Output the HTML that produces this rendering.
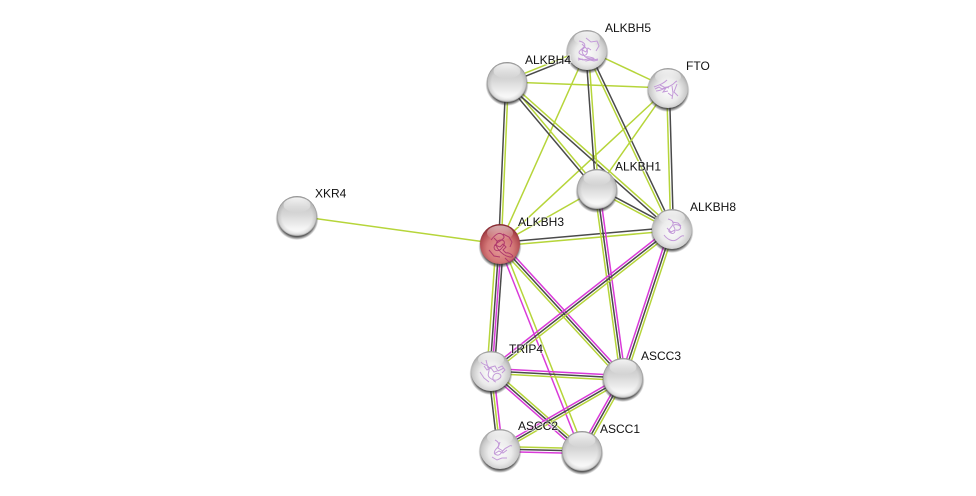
<!DOCTYPE html>
<html><head><meta charset="utf-8"><style>
html,body{margin:0;padding:0;background:#fff}
svg{display:block}
.g{stroke:#b6d53a;stroke-width:1.5}
.d{stroke:#4a4a4a;stroke-width:1.5}
.m{stroke:#d93ad9;stroke-width:1.5}
text{font-family:"Liberation Sans",sans-serif;font-size:12px;fill:#111;paint-order:stroke;stroke:rgba(255,255,255,.55);stroke-width:2px}
.s{fill:none;stroke:#c39ad8;stroke-width:1}
.sr{fill:none;stroke:#b03a6c;stroke-width:1}
</style></head><body>
<svg width="976" height="496" viewBox="0 0 976 496" xmlns="http://www.w3.org/2000/svg">
<defs>
<linearGradient id="b" x1="0" y1="0" x2="0" y2="1">
<stop offset="0" stop-color="#bcbcbc"/><stop offset=".45" stop-color="#d6d6d6"/><stop offset=".8" stop-color="#f4f4f4"/><stop offset=".93" stop-color="#fafafa"/><stop offset="1" stop-color="#dcdcdc"/>
</linearGradient>
<radialGradient id="ring" cx="50%" cy="50%" r="50%">
<stop offset=".76" stop-color="#777" stop-opacity="0"/><stop offset=".94" stop-color="#777" stop-opacity=".22"/><stop offset="1" stop-color="#666" stop-opacity=".65"/>
</radialGradient>
<radialGradient id="w" cx="50%" cy="58%" r="58%">
<stop offset="0" stop-color="#fbfbfb"/><stop offset=".5" stop-color="#ebebeb"/><stop offset=".8" stop-color="#c9c9c9"/><stop offset="1" stop-color="#9a9a9a"/>
</radialGradient>
<radialGradient id="r" cx="50%" cy="62%" r="60%">
<stop offset="0" stop-color="#e59a9a"/><stop offset=".55" stop-color="#d47878"/><stop offset=".85" stop-color="#b04a50"/><stop offset="1" stop-color="#852830"/>
</radialGradient>
<linearGradient id="h" x1="0" y1="0" x2="0" y2="1"><stop offset="0" stop-color="#fff" stop-opacity=".85"/><stop offset="1" stop-color="#fff" stop-opacity="0"/></linearGradient>
<linearGradient id="h2" x1="0" y1="0" x2="0" y2="1"><stop offset="0" stop-color="#fff" stop-opacity=".6"/><stop offset="1" stop-color="#fff" stop-opacity="0"/></linearGradient>
<radialGradient id="sh" cx="50%" cy="50%" r="50%"><stop offset=".85" stop-color="#333" stop-opacity=".8"/><stop offset="1" stop-color="#333" stop-opacity="0"/></radialGradient>
<g id="n"><circle cy="2.5" r="21.5" fill="url(#sh)"/><circle r="20" fill="url(#b)"/><circle r="20" fill="url(#ring)"/><ellipse cy="-11" rx="13.5" ry="7.5" fill="url(#h)"/></g>
<g id="nw"><circle cy="2.5" r="21.5" fill="url(#sh)"/><circle r="20" fill="url(#w)"/><ellipse cy="-11.5" rx="13" ry="7" fill="url(#h)"/></g>
<g id="nr"><circle cy="2.5" r="21.5" fill="url(#sh)"/><circle r="20" fill="url(#r)"/><ellipse cy="-11" rx="13" ry="7.5" fill="url(#h2)"/></g>
</defs>
<rect width="976" height="496" fill="#fff"/>
<line class="g" x1="297" y1="216" x2="500" y2="244"/>
<line class="d" x1="498.7" y1="244" x2="505.7" y2="82"/><line class="g" x1="501.3" y1="244" x2="508.3" y2="82"/>
<line class="g" x1="500" y1="244" x2="587" y2="50"/>
<line class="g" x1="500" y1="244" x2="668" y2="88"/>
<line class="g" x1="500" y1="244" x2="597" y2="189"/>
<line class="d" x1="500" y1="242.4" x2="672" y2="227.4"/><line class="g" x1="500" y1="245.8" x2="672" y2="230.8"/>
<line class="g" x1="496" y1="244" x2="487" y2="371"/><line class="d" x1="499" y1="244" x2="490" y2="371"/><line class="m" x1="501.2" y1="244" x2="492.2" y2="371"/><line class="d" x1="503.4" y1="244" x2="494.4" y2="371"/>
<line class="m" x1="501.9" y1="242.3" x2="624.9" y2="376.3"/><line class="d" x1="500" y1="244" x2="623" y2="378"/><line class="g" x1="498.1" y1="245.7" x2="621.1" y2="379.7"/>
<line class="m" x1="498.7" y1="244.5" x2="580.7" y2="451.5"/><line class="g" x1="502.3" y1="243.1" x2="584.3" y2="450.1"/>
<line class="g" x1="506.4" y1="80.6" x2="586.4" y2="48.6"/><line class="d" x1="507.6" y1="83.4" x2="587.6" y2="51.4"/>
<line class="g" x1="507" y1="82" x2="668" y2="88"/>
<line class="g" x1="587" y1="50" x2="668" y2="88"/>
<line class="d" x1="505.9" y1="83" x2="595.9" y2="190"/><line class="g" x1="508.1" y1="81" x2="598.1" y2="188"/>
<line class="d" x1="506" y1="83.1" x2="671" y2="230.1"/><line class="g" x1="508" y1="80.9" x2="673" y2="227.9"/>
<line class="d" x1="585.7" y1="50" x2="595.7" y2="189"/><line class="g" x1="588.4" y1="50" x2="598.4" y2="189"/>
<line class="g" x1="585.8" y1="50.6" x2="670.8" y2="229.6"/><line class="d" x1="588.2" y1="49.4" x2="673.2" y2="228.4"/>
<line class="g" x1="668" y1="88" x2="597" y2="189"/>
<line class="g" x1="666.7" y1="88" x2="670.7" y2="229"/><line class="d" x1="669.4" y1="88" x2="673.4" y2="229"/>
<line class="d" x1="597.6" y1="187.8" x2="672.6" y2="227.8"/><line class="g" x1="596.4" y1="190.2" x2="671.4" y2="230.2"/>
<line class="g" x1="594.5" y1="189" x2="620.5" y2="378"/><line class="d" x1="597" y1="189" x2="623" y2="378"/><line class="m" x1="599.5" y1="189" x2="625.5" y2="378"/>
<line class="m" x1="670.5" y1="227" x2="489.5" y2="369"/><line class="d" x1="672" y1="229" x2="491" y2="371"/><line class="g" x1="673.5" y1="231" x2="492.5" y2="373"/>
<line class="m" x1="669.6" y1="228.2" x2="620.6" y2="377.2"/><line class="d" x1="672" y1="229" x2="623" y2="378"/><line class="g" x1="674.4" y1="229.8" x2="625.4" y2="378.8"/>
<line class="m" x1="491" y1="368.5" x2="623" y2="375.5"/><line class="d" x1="491" y1="371" x2="623" y2="378"/><line class="g" x1="491" y1="373.5" x2="623" y2="380.5"/>
<line class="d" x1="488.5" y1="371" x2="497.5" y2="449"/><line class="g" x1="491" y1="371" x2="500" y2="449"/><line class="m" x1="493.5" y1="371" x2="502.5" y2="449"/>
<line class="g" x1="492.6" y1="369.1" x2="583.6" y2="449.1"/><line class="d" x1="491" y1="371" x2="582" y2="451"/><line class="m" x1="489.4" y1="372.9" x2="580.4" y2="452.9"/>
<line class="m" x1="621.8" y1="375.9" x2="498.8" y2="446.9"/><line class="d" x1="623" y1="378" x2="500" y2="449"/><line class="g" x1="624.2" y1="380.1" x2="501.2" y2="451.1"/>
<line class="m" x1="620.9" y1="376.8" x2="579.9" y2="449.8"/><line class="d" x1="623" y1="378" x2="582" y2="451"/><line class="g" x1="625.1" y1="379.2" x2="584.1" y2="452.2"/>
<line class="g" x1="500" y1="446.5" x2="582" y2="448.5"/><line class="d" x1="500" y1="449" x2="582" y2="451"/><line class="m" x1="500" y1="451.5" x2="582" y2="453.5"/>

<use href="#n" x="297" y="216"/>
<use href="#n" x="507" y="82"/>
<use href="#nw" x="587" y="50"/>
<use href="#nw" x="668" y="88"/>
<use href="#n" x="597" y="189"/>
<use href="#nw" x="672" y="229"/>
<use href="#nr" x="500" y="244"/>
<use href="#nw" x="491" y="371"/>
<use href="#n" x="623" y="378"/>
<use href="#nw" x="500" y="449"/>
<use href="#n" x="582" y="451"/>

<path class="s" d="M579 41c5 1 8 4 4 7s-6 5-1 7 7-4 4-7-5 2-3 6 6 5 10 5-4-3-8-2M578 58l5 2 5-1 5 1 5-1M578 60l4-1 4 2 4-1 4 1 4-1M586 38l5 4 6-1 2 5-3 5M582 44l3 3-3 3 4 2 2-4 3 2"/>
<path class="s" d="M654 87c5-2 9-3 13-7M656 91c5 0 9-3 14-5s4-4 7-5M660 85l6 3-3 4 5-1M672 86l1 7-1 6M677 84l-3 8 4 4M668 93l4 3M655 89l4-2 3 2 4-2 3 1"/>
<path class="s" d="M668 219c4 1 7 3 4 7s-5 5-1 7 5-3 3-6 4-3 6-1-1 5-4 4M664 235c3 4 8 7 12 5s5-5 8-4M672 222l6 1 3 3M667 228l4 4 4-2"/>
<path class="sr" d="M491 240c4-5 8-9 12-5s-5 6-8 10 2 8 6 4 5-9 0-9-6 5-3 9 8 8 13 8-2-5-5-4M503 234l6 3 3 5-2 5M489 250l5 6 6 1M505 258l4 4 5-3M494 238l4 4-3 3 5 2 3-3 3 3-3 3 3 3"/>
<path class="s" d="M481 362c3 4 7 2 8 6s-3 7 1 10 7 3 10 0-2-6-5-4-3 7 1 8M486 360l2 8 7-2 3 5 6-3M480 372l4 6 5 4M498 368l4-2 3 4-3 3M484 366l3 4 4-2 3 4 3-1"/>
<path class="s" d="M495 440c4 2 5 5 2 8s-4 6 0 7 5-5 9-7 4-3 6-2M492 457l5 3 5-2 5 0M500 442l-2 6 5 3M494 454l5-3 4 2 4-3"/>

<text x="315" y="197.5">XKR4</text>
<text x="605" y="32">ALKBH5</text>
<text x="525" y="64">ALKBH4</text>
<text x="686" y="70">FTO</text>
<text x="615" y="170.5">ALKBH1</text>
<text x="690" y="211">ALKBH8</text>
<text x="518" y="226">ALKBH3</text>
<text x="509" y="353">TRIP4</text>
<text x="641" y="360">ASCC3</text>
<text x="518" y="430">ASCC2</text>
<text x="600" y="433">ASCC1</text>
</svg>
</body></html>
